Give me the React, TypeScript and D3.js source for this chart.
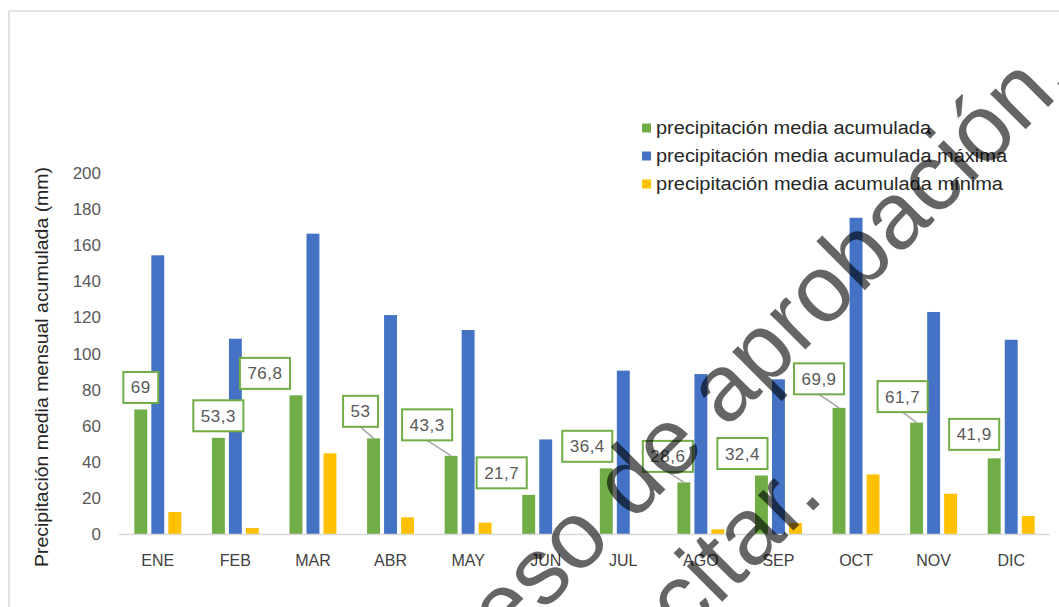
import React, { useEffect, useRef } from 'react';
import * as d3 from 'd3';

const months = ['ENE', 'FEB', 'MAR', 'ABR', 'MAY', 'JUN', 'JUL', 'AGO', 'SEP', 'OCT', 'NOV', 'DIC'];
const mediaValues = [69, 53.3, 76.8, 53, 43.3, 21.7, 36.4, 28.6, 32.4, 69.9, 61.7, 41.9];
const maximaValues = [154.4, 108.2, 166.4, 121.3, 113, 52.4, 90.5, 88.6, 85.7, 175.2, 123, 107.6];
const minimaValues = [12.2, 3.3, 44.7, 9.2, 6.3, 0, 0, 2.6, 6.1, 33, 22.3, 10];
const yTicks = [0, 20, 40, 60, 80, 100, 120, 140, 160, 180, 200];
const seriesNames = [
  'precipitación media acumulada',
  'precipitación media acumulada máxima',
  'precipitación media acumulada mínima',
];
const seriesColors = ['#70AD47', '#4472C4', '#FFC000'];
const yTitle = 'Precipitación media mensual acumulada (mm)';
// manual offsets of the data label boxes (px, relative to bar top centre)
const labelShift: [number, number][] = [
  [0, -22], [0, -22], [-31, -22], [-13, -27], [-24, -31], [-27, -22],
  [-19, -22], [-16, -26], [-19, -22], [-20, -29], [-14, -26], [-20, -24],
];
const watermarkLines = ['En proceso de aprobación.', 'No citar.'];

const W = 1059;
const H = 607;

export default function App() {
  const ref = useRef<SVGSVGElement | null>(null);

  useEffect(() => {
    const svg = d3.select(ref.current);
    svg.selectAll('*').remove();
    const font = "'Liberation Sans', Arial, sans-serif";

    svg.append('rect').attr('width', W).attr('height', H).attr('fill', '#fff');
    svg.append('rect')
      .attr('x', 9).attr('y', 11).attr('width', 1200).attr('height', 800)
      .attr('fill', 'none').attr('stroke', '#d9d9d9').attr('stroke-width', 1.5);

    const x0 = d3.scaleBand<string>().domain(months).range([119, 1050]).paddingInner(0.395).paddingOuter(0.1975);
    const keys = ['media', 'maxima', 'minima'];
    const x1 = d3.scaleBand<string>().domain(keys).range([0, x0.bandwidth()]).paddingInner(0.24);
    const y = d3.scaleLinear().domain([0, 200]).range([534, 173]);

    const data = months.map((m, i) => ({
      m,
      vals: [mediaValues[i], maximaValues[i], minimaValues[i]],
    }));

    // y tick labels
    const yAxis = svg.append('g');
    yAxis.selectAll('text').data(yTicks).join('text')
      .attr('x', 101).attr('y', (d) => y(d) + 6)
      .attr('text-anchor', 'end')
      .attr('font-family', font).attr('font-size', 17).attr('fill', '#595959')
      .text((d) => String(d));

    // y title
    svg.append('text')
      .attr('transform', `translate(48,367) rotate(-90)`)
      .attr('text-anchor', 'middle')
      .attr('font-family', font).attr('font-size', 19).attr('fill', '#262626')
      .attr('textLength', 400).attr('lengthAdjust', 'spacingAndGlyphs')
      .text(yTitle);

    // bars
    const groups = svg.append('g').selectAll('g').data(data).join('g')
      .attr('transform', (d) => `translate(${x0(d.m)},0)`);
    groups.selectAll('rect').data((d) => d.vals.map((v, k) => ({ v, k }))).join('rect')
      .attr('x', (d) => x1(keys[d.k])!)
      .attr('width', x1.bandwidth())
      .attr('y', (d) => y(d.v))
      .attr('height', (d) => y(0) - y(d.v))
      .attr('fill', (d) => seriesColors[d.k]);

    // x axis line
    svg.append('line')
      .attr('x1', 119).attr('x2', 1050).attr('y1', y(0) + 0.5).attr('y2', y(0) + 0.5)
      .attr('stroke', '#d9d9d9').attr('stroke-width', 1.5);

    // x labels
    svg.append('g').selectAll('text').data(months).join('text')
      .attr('x', (d) => x0(d)! + x0.bandwidth() / 2)
      .attr('y', 566)
      .attr('text-anchor', 'middle')
      .attr('font-family', font).attr('font-size', 16).attr('fill', '#404040')
      .text((d) => d);

    // data labels
    const lbl = svg.append('g');
    data.forEach((d, i) => {
      const bx = x0(d.m)! + x1('media')! + x1.bandwidth() / 2;
      const by = y(d.vals[0]);
      const [dx, dy] = labelShift[i];
      const cx = bx + dx;
      const cy = by + dy;
      const g = lbl.append('g');
      if (dy <= -25) {
        g.append('line')
          .attr('x1', cx).attr('y1', cy + 15.5).attr('x2', bx).attr('y2', by)
          .attr('stroke', '#a6a6a6').attr('stroke-width', 1.5);
      }
      const rect = g.append('rect');
      const t = g.append('text')
        .attr('x', cx).attr('y', cy + 6)
        .attr('text-anchor', 'middle')
        .attr('font-family', font).attr('font-size', 17).attr('fill', '#595959')
        .attr('letter-spacing', 0.5)
        .text(String(d.vals[0]).replace('.', ','));
      const tw = (t.node() as SVGTextElement).getComputedTextLength();
      const bw = tw + 15;
      rect.attr('x', cx - bw / 2).attr('y', cy - 15.5).attr('width', bw).attr('height', 31)
        .attr('fill', '#fff').attr('stroke', '#70AD47').attr('stroke-width', 2);
    });

    // legend
    const legendW = [275, 351, 347];
    const leg = svg.append('g');
    seriesNames.forEach((name, i) => {
      const cy = 128 + i * 28;
      leg.append('rect').attr('x', 642).attr('y', cy - 4.5).attr('width', 9).attr('height', 9)
        .attr('fill', seriesColors[i]);
      leg.append('text').attr('x', 656).attr('y', cy + 6)
        .attr('font-family', font).attr('font-size', 18).attr('fill', '#262626')
        .attr('textLength', legendW[i]).attr('lengthAdjust', 'spacingAndGlyphs')
        .text(name);
    });

    // watermark
    const wm = svg.append('g').attr('opacity', 0.6);
    const anchors: [number, number][] = [[1077, 78], [826, 498]];
    watermarkLines.forEach((line, i) => {
      wm.append('text')
        .attr('transform', `translate(${anchors[i][0]},${anchors[i][1]}) rotate(-45)`)
        .attr('text-anchor', 'end')
        .attr('font-family', font).attr('font-size', 95).attr('fill', '#000')
        .text(line);
    });
  }, []);

  return (
    <svg
      ref={ref}
      width={W}
      height={H}
      style={{ position: 'absolute', left: 0, top: 0, display: 'block' }}
    />
  );
}
